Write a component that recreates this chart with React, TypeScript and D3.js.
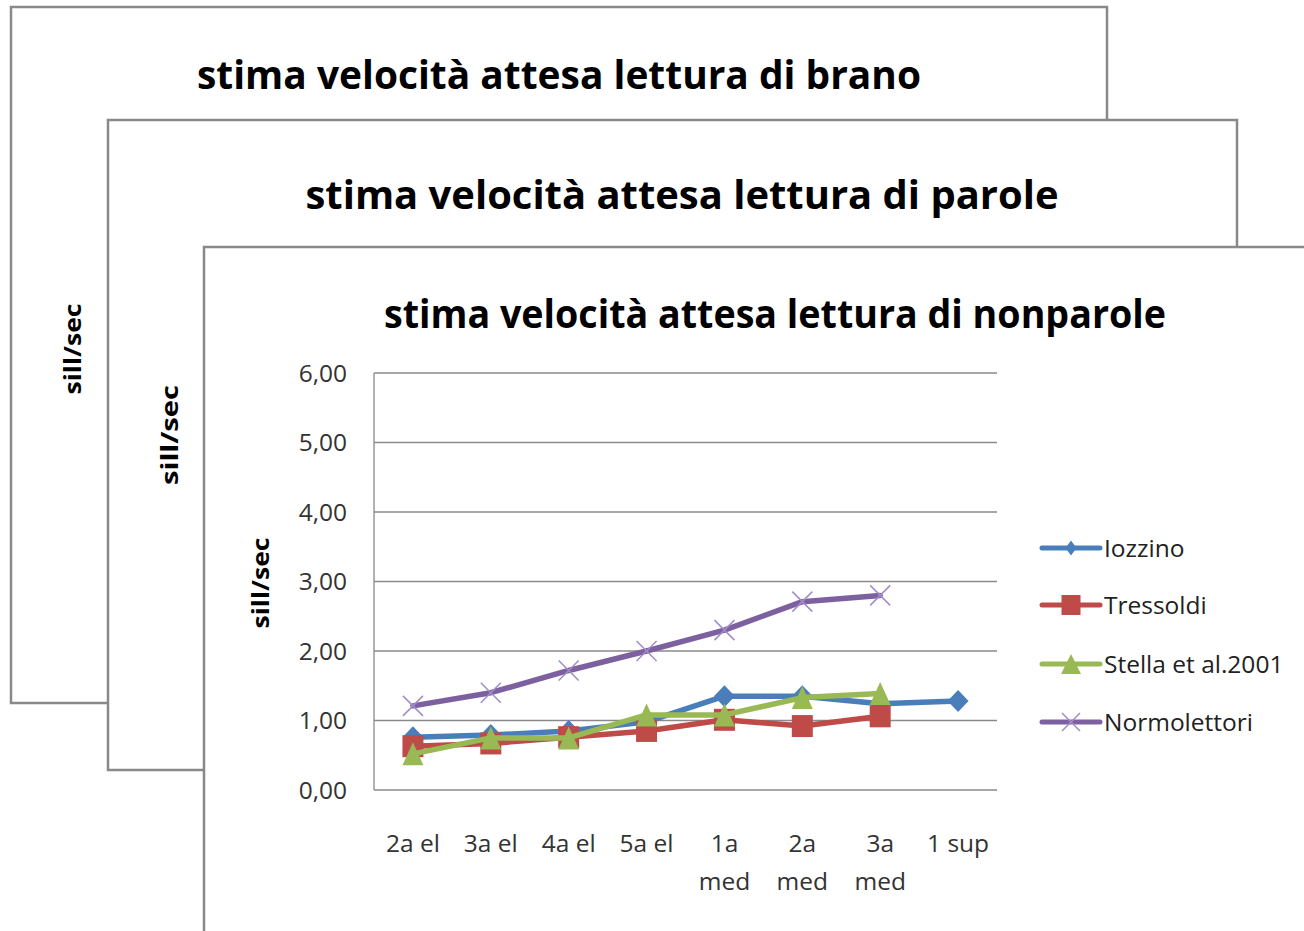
import React from "react";
import * as d3 from "d3";

const categories = ["2a el", "3a el", "4a el", "5a el", "1a med", "2a med", "3a med", "1 sup"];
const categoryLines = [["2a el"], ["3a el"], ["4a el"], ["5a el"], ["1a", "med"], ["2a", "med"], ["3a", "med"], ["1 sup"]];
const iozzino = [0.76, 0.79, 0.85, 0.98, 1.35, 1.35, 1.24, 1.28];
const tressoldi = [0.63, 0.67, 0.76, 0.85, 1.01, 0.92, 1.06, null];
const stella = [0.52, 0.75, 0.75, 1.08, 1.08, 1.33, 1.39, null];
const normolettori = [1.21, 1.40, 1.72, 2.00, 2.30, 2.71, 2.80, null];
const yTicks = [0, 1, 2, 3, 4, 5, 6];
const seriesNames = ["Iozzino", "Tressoldi", "Stella et al.2001", "Normolettori"];
const titles = [
  "stima velocità attesa lettura di brano",
  "stima velocità attesa lettura di parole",
  "stima velocità attesa lettura di nonparole",
];
const yAxisTitle = "sill/sec";

const FONT = "'Open Sans', Lato, sans-serif";

type Series = { name: string; values: (number | null)[]; color: string; marker: string; mcolor: string };

function markerPath(kind: string, cx: number, cy: number, small = false): string {
  if (kind === "diamond") {
    const rx = small ? 5.5 : 10.5, ry = small ? 7.5 : 11;
    return `M${cx},${cy - ry}L${cx + rx},${cy}L${cx},${cy + ry}L${cx - rx},${cy}Z`;
  }
  if (kind === "square") {
    const rx = small ? 9.5 : 10.5, ry = small ? 10 : 11;
    return `M${cx - rx},${cy - ry}H${cx + rx}V${cy + ry}H${cx - rx}Z`;
  }
  if (kind === "triangle") {
    const rx = small ? 10 : 10.5, ry = small ? 10 : 11.5;
    return `M${cx},${cy - ry}L${cx + rx},${cy + ry}L${cx - rx},${cy + ry}Z`;
  }
  const r = small ? 9 : 10;
  return `M${cx - r},${cy - r}L${cx + r},${cy + r}M${cx - r},${cy + r}L${cx + r},${cy - r}`;
}

export default function App() {
  const W = 1304, H = 931;
  const plotL = 374, plotR = 997, plotT = 373, plotB = 790;
  const x = d3.scaleBand<string>().domain(categories).range([plotL, plotR]);
  const y = d3.scaleLinear().domain([0, 6]).range([plotB, plotT]);
  const cx = (c: string) => (x(c) as number) + x.bandwidth() / 2;

  const series: Series[] = [
    { name: seriesNames[0], values: iozzino, color: "#4a7ebb", marker: "diamond", mcolor: "#4a7ebb" },
    { name: seriesNames[1], values: tressoldi, color: "#be4b48", marker: "square", mcolor: "#be4b48" },
    { name: seriesNames[2], values: stella, color: "#98b954", marker: "triangle", mcolor: "#98b954" },
    { name: seriesNames[3], values: normolettori, color: "#7d60a0", marker: "x", mcolor: "#a08cc8" },
  ];

  const line = d3
    .line<{ c: string; v: number | null }>()
    .defined((d) => d.v !== null)
    .x((d) => cx(d.c))
    .y((d) => y(d.v as number));

  const panels = [
    { x: 11, y: 7, w: 1096, h: 696, title: titles[0], tx: 559, ty: 89, tlen: 724, lx: 71, ly: 349, llen: 91 },
    { x: 108, y: 120, w: 1129, h: 650, title: titles[1], tx: 682, ty: 209, tlen: 753, lx: 168, ly: 435, llen: 100 },
    { x: 204, y: 247, w: 1110, h: 700, title: titles[2], tx: 775, ty: 328, tlen: 782, lx: 259, ly: 583, llen: 91 },
  ];

  const legendY = [548, 605, 664, 722];

  return (
    <svg width={W} height={H} style={{ position: "absolute", left: 0, top: 0 }} fontFamily={FONT}>
      <rect x={0} y={0} width={W} height={H} fill="#ffffff" />
      {panels.map((p, i) => (
        <g key={i}>
          <rect x={p.x} y={p.y} width={p.w} height={p.h} fill="#ffffff" stroke="#898989" strokeWidth={2.5} />
          <text x={p.tx} y={p.ty} textAnchor="middle" fontSize={39} fontWeight="bold" fill="#000"
            textLength={p.tlen} lengthAdjust="spacingAndGlyphs">{p.title}</text>
          <text transform={`translate(${p.lx},${p.ly}) rotate(-90)`} textAnchor="middle" dominantBaseline="central"
            fontSize={24} fontWeight="bold" fill="#000" textLength={p.llen} lengthAdjust="spacingAndGlyphs">{yAxisTitle}</text>
        </g>
      ))}
      {yTicks.map((t) => (
        <g key={t}>
          <line x1={plotL} x2={plotR} y1={y(t)} y2={y(t)} stroke="#8a8a8a" strokeWidth={1.3} />
          <text x={347} y={y(t) + 8.5} textAnchor="end" fontSize={24.5} fill="#333">
            {d3.format(".2f")(t).replace(".", ",")}
          </text>
        </g>
      ))}
      <line x1={plotL} x2={plotL} y1={plotT} y2={plotB} stroke="#8a8a8a" strokeWidth={1.3} />
      {categories.map((c, i) => (
        <text key={c} x={cx(c)} y={852} textAnchor="middle" fontSize={24.5} fill="#333">
          {categoryLines[i].map((l, j) => (
            <tspan key={j} x={cx(c)} dy={j === 0 ? 0 : 38}>{l}</tspan>
          ))}
        </text>
      ))}
      {series.map((s) => {
        const pts = categories.map((c, i) => ({ c, v: s.values[i] }));
        return (
          <g key={s.name}>
            <path d={line(pts) || ""} fill="none" stroke={s.color} strokeWidth={5.5}
              strokeLinejoin="round" strokeLinecap="round" />
            {pts.filter((d) => d.v !== null).map((d) => (
              <path key={d.c} d={markerPath(s.marker, cx(d.c), y(d.v as number))}
                fill={s.marker === "x" ? "none" : s.mcolor} stroke={s.mcolor} strokeWidth={s.marker === "x" ? 1.5 : 0} />
            ))}
          </g>
        );
      })}
      {series.map((s, i) => (
        <g key={s.name}>
          <line x1={1042} x2={1100} y1={legendY[i]} y2={legendY[i]} stroke={s.color} strokeWidth={5} strokeLinecap="round" />
          <path d={markerPath(s.marker, 1071, legendY[i], true)} fill={s.marker === "x" ? "none" : s.mcolor}
            stroke={s.mcolor} strokeWidth={s.marker === "x" ? 1.5 : 0} />
          <text x={1104} y={legendY[i] + 8.5} fontSize={24.5} fill="#222">{s.name}</text>
        </g>
      ))}
    </svg>
  );
}
